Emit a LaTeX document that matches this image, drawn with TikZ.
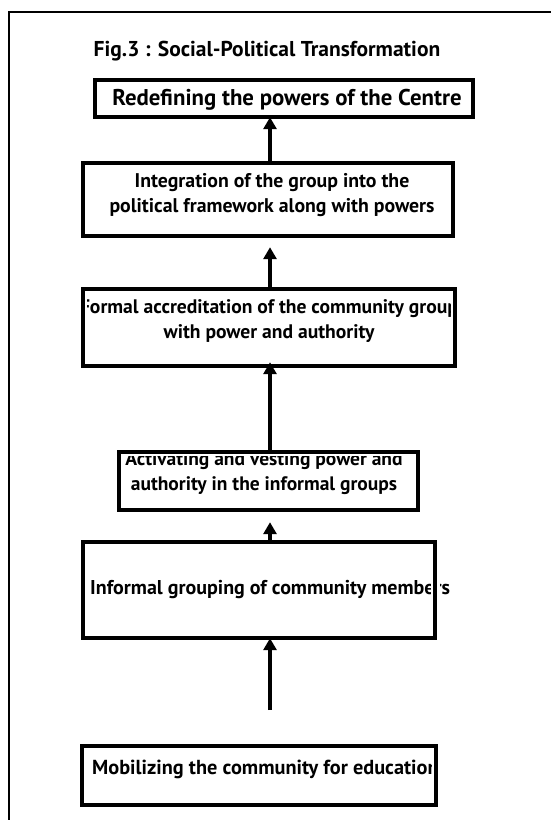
\documentclass[tikz,border=0pt]{standalone}
\usepackage{fontspec}
\setmainfont{PT Sans}
\usetikzlibrary{arrows.meta}
\tikzset{
  stage/.style={draw=none, inner sep=0pt},
  rim/.style={draw=black, line width=4pt, preaction={draw=white, line width=9pt}},
  label/.style={font=\bfseries\fontsize{#1}{25}\selectfont, align=center, inner sep=0pt},
  uparrow/.style={line width=4pt, -{Triangle[width=13pt,length=12pt]}},
  frameline/.style={line width=1.8pt}
}
\begin{document}
\begin{tikzpicture}[x=1pt, y=-1pt]
\useasboundingbox (0,0) rectangle (550,820);

% page frame (top and left edges)
\coordinate (ftl) at (9,12);
\coordinate (ftr) at (552,12);
\coordinate (fbl) at (9,822);
\draw[frameline] (ftr) -- (ftl) -- (fbl);

% title
\node[font=\bfseries\fontsize{21.5}{25}\selectfont, inner sep=0pt] (title) at (267,51)
  {Fig.3 : Social-Political Transformation};

% stage boxes (outlines drawn after their texts)
\node[stage, minimum width=378pt, minimum height=37pt] (b1) at (284,98.5) {};
\node[stage, minimum width=370pt, minimum height=73pt] (b2) at (268,199.5) {};
\node[stage, minimum width=372pt, minimum height=77pt] (b3) at (269,327.5) {};
\node[stage, minimum width=299pt, minimum height=58pt] (b4) at (268.5,481) {};
\node[stage, minimum width=352pt, minimum height=96pt] (b5) at (259,590) {};
\node[stage, minimum width=354pt, minimum height=59pt] (b6) at (259,775.5) {};

% stage texts
\node[label=22.8] (t1) at (287,100) {Redefining the powers of the Centre};
\node[label=19.8] (t2) at (272,195) {Integration of the group into the\\political framework along with powers};
\node[label=19.6] (t3) at (269,321) {Formal accreditation of the community group\\with power and authority};
\node[label=19.5] (t4) at (264,473) {Activating and vesting power and\\authority in the informal groups};
\node[label=20, anchor=west] (t5) at (90,590) {Informal grouping of community members};
\begin{scope}
  \clip ([xshift=-2pt]b6.south west) rectangle ([xshift=2pt]b6.north east);
  \node[label=20.3, anchor=west] (t6) at (92,769) {Mobilizing the community for education};
\end{scope}

% outlines
\foreach \b in {b1,b2,b3,b4,b5,b6}
  \draw[rim] (\b.south west) rectangle (\b.north east);

% connectors
\coordinate (a5tail) at (270,710);
\draw[uparrow] (b2.north -| 270,0) -- (b1.south -| 270,0);
\draw[uparrow, shorten >=11pt] (b3.north -| 270,0) -- (b2.south -| 270,0);
\draw[uparrow, shorten >=-4pt] (b4.north -| 270,0) -- (b3.south -| 270,0);
\draw[uparrow, shorten >=12pt] (b5.north -| 270,0) -- (b4.south -| 270,0);
\draw[uparrow] (a5tail) -- (b5.south -| 270,0);
\end{tikzpicture}
\end{document}
